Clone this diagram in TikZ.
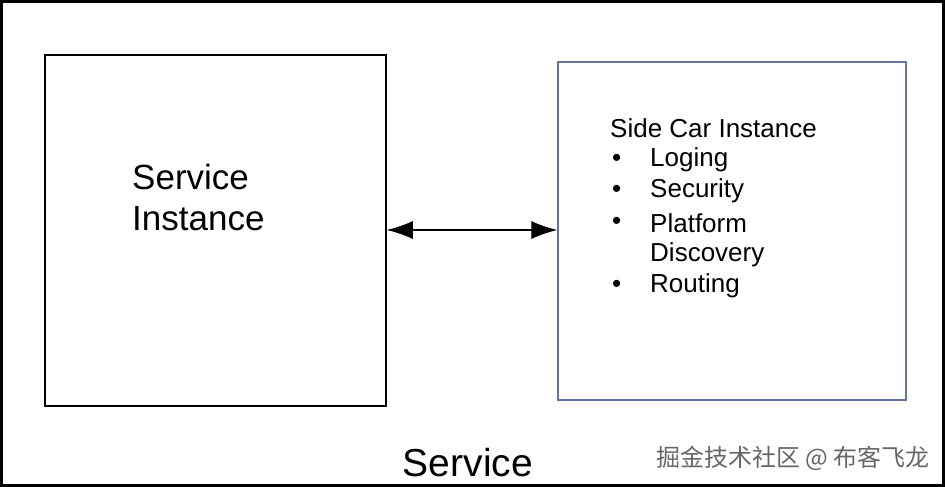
\documentclass[tikz,border=0pt]{standalone}
\usepackage{fontspec}
\setmainfont{Liberation Sans}
\newfontfamily\cjk{Noto Sans CJK SC}
\usetikzlibrary{arrows.meta}
\begin{document}
\begin{tikzpicture}[x=1pt,y=-1pt,
  box/.style={draw,line width=1.5pt},
  lab/.style={anchor=west,inner sep=0pt,font=\fontsize{26}{26}\selectfont}]
\useasboundingbox (0,0) rectangle (945,487);
\draw[line width=2.5pt] (1.5,1.5) rectangle (943.5,485.5);
\node[box,minimum width=341pt,minimum height=351pt,inner sep=0pt] (svc) at (215.5,230.5) {};
\node[draw={rgb,255:red,100;green,115;blue,160},line width=1.3pt,minimum width=348pt,minimum height=338pt,inner sep=0pt] (car) at (732,231) {};
\node[lab,font=\fontsize{35}{41}\selectfont,align=left] (si) at (132,197) {Service\\Instance};
\node[lab] (t0) at (610,128) {Side Car Instance};
\foreach \y/\t [count=\i] in {160/Loging,191/Security,223/Platform,255/Discovery,286/Routing}{
  \node[lab] (l\i) at (650,\y) {\t};}
\foreach \y [count=\i] in {160,191,223,286}{
  \node[lab] (b\i) at (612,\y) {\textbullet};}
\draw[line width=1.2pt,{Latex[length=26pt,width=18pt]}-{Latex[length=26pt,width=18pt]}] (svc.east |- 0,230) -- (car.west |- 0,230);
\node[font=\fontsize{39}{39}\selectfont,inner sep=0pt] (s) at (468,463) {Service};
\node[font=\cjk\fontsize{24}{24}\selectfont,text=black!60,inner sep=0pt,anchor=east] (w) at (930,458) {掘金技术社区 @ 布客飞龙};
\end{tikzpicture}
\end{document}
